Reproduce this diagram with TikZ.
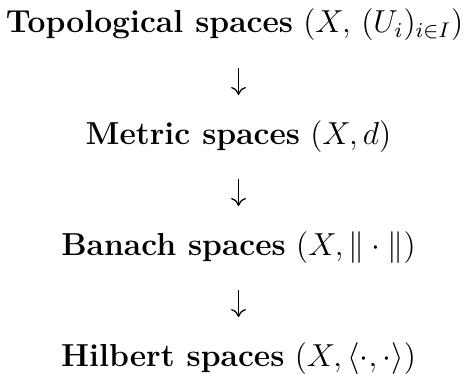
\documentclass[12pt,tikz,border=0pt]{standalone}
\usepackage{amsmath}
\usepackage{tikz}
\usetikzlibrary{positioning,arrows.meta}
\tikzset{
    spaceRow/.style={inner sep=0pt, anchor=base},
    implArrow/.style={-{To[length=3pt, width=5.6pt]}, line width=0.48pt,
                      shorten <=13.2pt, shorten >=18.5pt},
}

\begin{document}
\begin{tikzpicture}[
    node distance=41.9pt,
]
\useasboundingbox (0,0) rectangle (176.6pt,-140.8pt);

% =======================  the four spaces  =======================
\node[spaceRow] (topo) at (88.5pt,-12.45pt)
     {\textbf{Topological spaces} $(X,\, (U_i)_{i\in I})$};

\node[spaceRow, below=of topo.base, anchor=base, xshift=1.5pt] (metric)
     {\textbf{Metric spaces} $(X, d)$};

\node[spaceRow, below=of metric.base, anchor=base] (banach)
     {\textbf{Banach spaces} $(X, \|\cdot\|)$};

\node[spaceRow, below=of banach.base, anchor=base] (hilbert)
     {\textbf{Hilbert spaces} $(X, \langle\cdot,\cdot\rangle)$};

% =======================  arrows  =======================
\draw[implArrow] (topo.base -| metric.base) -- (metric.base);
\draw[implArrow] (metric.base) -- (banach.base);
\draw[implArrow] (banach.base) -- (hilbert.base);

\end{tikzpicture}
\end{document}
